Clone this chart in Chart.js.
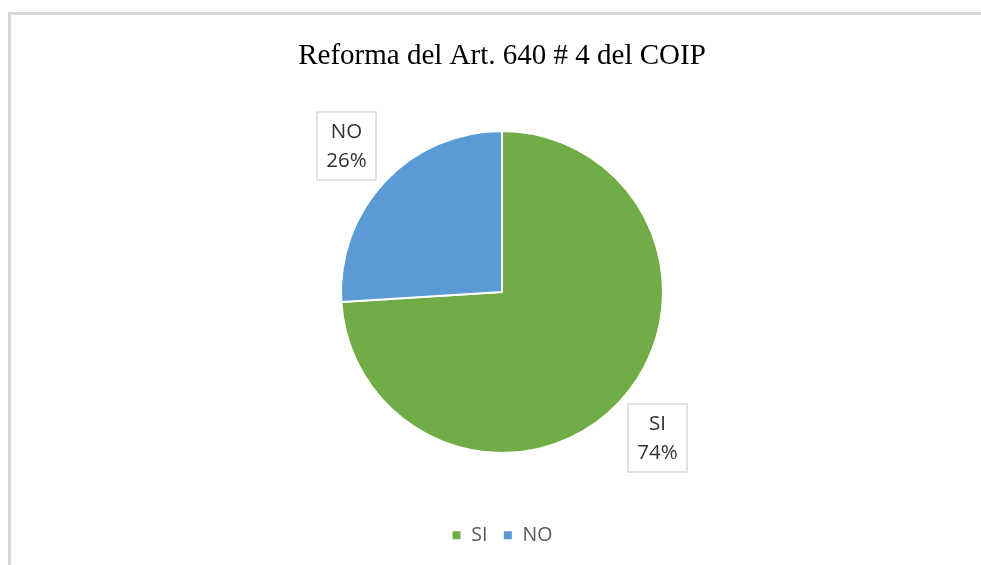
<!DOCTYPE html>
<html>
<head>
<meta charset="utf-8">
<script src="https://cdn.jsdelivr.net/npm/chart.js@4"></script>
<style>
  html, body { margin: 0; padding: 0; background: #fff; overflow: hidden; }
  #frame {
    position: absolute; left: 8px; top: 12px;
    width: 982px; height: 560px;
    border: 3px solid #d9d9d9;
    background: #fff;
  }
  #chart { display: block; }
</style>
</head>
<body>
<div id="frame"><canvas id="chart" width="982" height="550"></canvas></div>
<script>
const categories = ['SI', 'NO'];
const percents = [74, 26];
const colors = ['#70AD47', '#5B9BD5'];
const chartTitle = 'Reforma del Art. 640 # 4 del COIP';

// boxed labels outside each slice, along the middle angle
const boxLabels = {
  id: 'boxLabels',
  afterDatasetsDraw(chart) {
    const ctx = chart.ctx;
    const meta = chart.getDatasetMeta(0);
    meta.data.forEach((arc, i) => {
      const mid = (arc.startAngle + arc.endAngle) / 2;
      const dist = arc.outerRadius * 1.325;
      const cx = arc.x + Math.cos(mid) * dist;
      const cy = arc.y + Math.sin(mid) * dist;
      const w = 59, h = 68;
      ctx.save();
      ctx.fillStyle = '#fff';
      ctx.fillRect(cx - w / 2, cy - h / 2, w, h);
      ctx.strokeStyle = '#d9d9d9';
      ctx.lineWidth = 1.5;
      ctx.strokeRect(cx - w / 2, cy - h / 2, w, h);
      ctx.fillStyle = '#333333';
      ctx.font = '20.5px "Open Sans"';
      ctx.textAlign = 'center';
      ctx.textBaseline = 'middle';
      ctx.fillText(categories[i], cx, cy - 14);
      ctx.fillText(percents[i] + '%', cx, cy + 15);
      ctx.restore();
    });
  }
};

new Chart(document.getElementById('chart'), {
  type: 'pie',
  data: {
    labels: categories,
    datasets: [{
      data: percents,
      backgroundColor: colors,
      borderColor: '#ffffff',
      borderWidth: 2,
      radius: 161
    }]
  },
  options: {
    responsive: false,
    animation: false,
    layout: { padding: { top: 0, bottom: 10, left: 0, right: 0 } },
    plugins: {
      title: {
        display: true,
        text: chartTitle,
        color: '#000',
        font: { family: '"Liberation Serif", "Times New Roman", serif', size: 29, weight: 'normal', lineHeight: 1.2 },
        padding: { top: 24, bottom: 0 }
      },
      legend: {
        position: 'bottom',
        labels: {
          boxWidth: 10,
          boxHeight: 10,
          padding: 15.4,
          color: '#595959',
          font: { family: '"Open Sans"', size: 19.5 }
        }
      },
      tooltip: { enabled: false }
    }
  },
  plugins: [boxLabels]
});
</script>
</body>
</html>
